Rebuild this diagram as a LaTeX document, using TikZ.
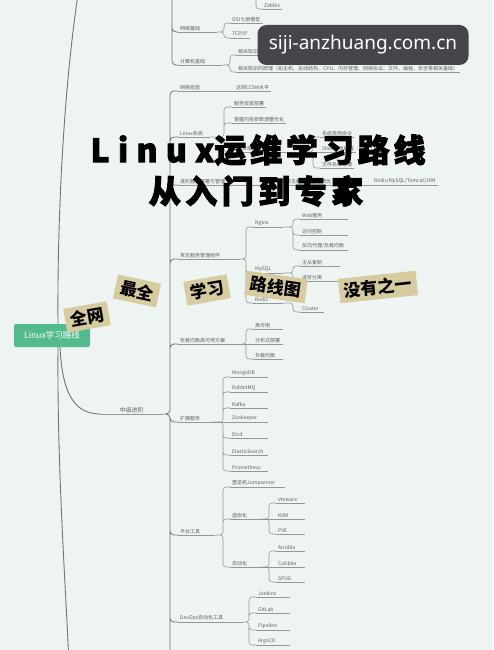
\documentclass[tikz,border=0pt]{standalone}
\usepackage{fontspec}
\newfontfamily\cjk{Noto Sans CJK SC}
\newfontfamily\titlefont{Noto Sans CJK SC}[FakeBold=3]
\newfontfamily\wmfont{Noto Sans}

\definecolor{bg}{RGB}{238,244,242}
\definecolor{linec}{RGB}{150,150,150}
\definecolor{trunkc}{RGB}{115,115,115}
\definecolor{txtc}{RGB}{95,95,95}
\definecolor{rootc}{RGB}{82,186,142}
\definecolor{tagc}{RGB}{214,204,160}
\definecolor{wmc}{RGB}{70,69,76}

\begin{document}
\begin{tikzpicture}[x=1pt,y=-1pt,
  lbl/.style={font=\cjk\fontsize{5}{6}\selectfont, text=txtc, anchor=south west,
    inner xsep=2pt, inner ysep=1.3pt,
    append after command={(\tikzlastnode.south west) edge[ul] (\tikzlastnode.south east)}},
  tw/.style={text width=#1, align=left},
  ul/.style={draw=linec, line width=0.55pt},
  conn/.style={draw=linec, line width=0.55pt, rounded corners=3pt},
  conn2/.style={draw=trunkc, line width=0.8pt, rounded corners=4pt},
  trunk/.style={draw=trunkc, line width=0.9pt},
  br/.style={to path={-| ([xshift=-#1]\tikztotarget.south west) -- (\tikztotarget.south west)}},
  br/.default=7pt,
  rootbox/.style={fill=rootc, text=white, font=\cjk\fontsize{8.5}{10}\selectfont,
    minimum width=76pt, minimum height=23pt, rounded corners=2pt, inner sep=2pt},
  tag/.style={fill=tagc, text=black, font=\cjk\bfseries\fontsize{17}{19}\selectfont,
    inner xsep=5pt, inner ysep=4pt},
  titletxt/.style={font=\titlefont\bfseries\fontsize{32}{34}\selectfont, text=black, inner sep=0pt},
  wm/.style={fill=wmc, rounded corners=9pt, minimum width=211pt, minimum height=40pt,
    text=white, font=\wmfont\fontsize{19}{22}\selectfont}
]
\useasboundingbox (0,0) rectangle (493,650);
\fill[bg] (0,0) rectangle (493,650);
\clip (0,0) rectangle (493,650);

% ---------- root and its trunk lines ----------
\node[rootbox] (root) at (52,335.5) {Linux学习路线};
\coordinate (topEnd) at (82,-30);
\coordinate (botEnd) at (70,690);
\draw[trunk] ([xshift=6pt]root.north) .. controls (57,200) and (66,60) .. (topEnd);
\draw[trunk] ([xshift=6pt]root.south) .. controls (57,480) and (67,600) .. (botEnd);

% ---------- upper branch (parent above the frame) ----------
\coordinate (topP) at (150,-25);
\coordinate (zbP) at (240,-20);
\node[lbl] (zbx) at (262,9) {Zabbix};
\node[lbl, tw=35pt] (netb) at (178,32) {网络基础};
\node[lbl] (osi) at (230,23) {OSI七层模型};
\node[lbl] (tcp) at (230,38) {TCP/IP};
\node[lbl, tw=40pt] (comp) at (178,65) {计算机基础};
\node[lbl] (ka) at (236,55) {相关知识的学习};
\node[lbl] (kb) at (236,72) {相关知识的原理（如主机、总线结构、CPU、内存管理、网络协议、文件、编程、安全等相关基础）};
\draw[conn] (zbP) to[br=6pt] (zbx);
\draw[conn2] (topP) to[br=6pt] (netb) (topP) to[br=6pt] (comp);
\draw[conn] (netb.south east) to[br=6pt] (osi) (netb.south east) to[br=6pt] (tcp);
\draw[conn] (comp.south east) to[br=6pt] (ka) (comp.south east) to[br=6pt] (kb);

% ---------- intermediate branch ----------
\node[lbl, tw=59pt, align=center, font=\cjk\fontsize{6}{7}\selectfont] (mid) at (100,414) {中级进阶};
\draw[trunk] ([xshift=8pt]root.south) .. controls (62,385) and (70,414) .. (mid.south west);
\coordinate (midEnd) at (170,700);

\node[lbl, tw=46pt] (c1) at (178,91) {网络技能};
\node[lbl] (c1a) at (234,91) {达到CCNA水平};
\draw[conn] (c1.south east) -- (c1a.south west);

\node[lbl, tw=28pt] (c2) at (178,137) {Linux系统};
\node[lbl] (c2a) at (232,107) {服务安装部署};
\node[lbl] (c2b) at (232,123) {掌握内核参数调整优化};
\node[lbl, tw=72pt] (c2c) at (232,152) {Linux常用服务管理};
\node[lbl] (c2c1) at (320,137) {系统常用命令};
\node[lbl] (c2c2) at (320,152) {Shell脚本编程};
\node[lbl] (c2c3) at (320,168) {文件系统原理};
\draw[conn] (c2.south east) to[br=8pt] (c2a) (c2.south east) to[br=8pt] (c2b) (c2.south east) to[br=8pt] (c2c);
\draw[conn] (c2c.south east) to[br] (c2c1) (c2c.south east) to[br] (c2c3);
\draw[conn] (c2c.south east) -- (c2c2.south west);

\node[lbl, tw=76pt] (c3) at (178,185) {进阶服务部署与管理};
\node[lbl, tw=98pt] (c3a) at (264,185) {熟练掌握常见服务配置与调优};
\node[lbl] (c3b) at (372,185) {Redis/MySQL/Tomcat/JVM};
\draw[conn] (c3.south east) -- (c3a.south west) (c3a.south east) -- (c3b.south west);

\node[lbl, tw=58pt] (c4) at (178,259) {常见服务管理组件};
\node[lbl, tw=26pt] (ng) at (253,227) {Nginx};
\node[lbl, tw=26pt] (my) at (253,273) {MySQL};
\node[lbl, tw=26pt] (rd) at (253,303) {Redis};
\node[lbl, tw=44pt] (ng1) at (300,219) {Web服务};
\node[lbl, tw=44pt] (ng2) at (300,235) {访问控制};
\node[lbl, tw=44pt] (ng3) at (300,250) {反向代理/负载均衡};
\node[lbl, tw=36pt] (my1) at (300,266) {主从复制};
\node[lbl, tw=36pt] (my2) at (300,281) {读写分离};
\node[lbl, tw=20pt] (rd1) at (300,312) {Cluster};
\draw[conn] (c4.south east) to[br] (ng) (c4.south east) to[br] (my) (c4.south east) to[br] (rd);
\draw[conn] (ng.south east) to[br] (ng1) (ng.south east) to[br] (ng2) (ng.south east) to[br] (ng3);
\draw[conn] (my.south east) to[br] (my1) (my.south east) to[br] (my2);
\draw[conn] (rd.south east) to[br] (rd1);

\node[lbl, tw=59pt] (c5) at (178,344) {负载均衡高可用方案};
\node[lbl, tw=26pt] (c5a) at (253,329) {高可用};
\node[lbl, tw=26pt] (c5b) at (253,344) {分布式部署};
\node[lbl, tw=26pt] (c5c) at (253,359) {负载均衡};
\draw[conn] (c5.south east) to[br] (c5a) (c5.south east) to[br] (c5c);
\draw[conn] (c5.south east) -- (c5b.south west);

\node[lbl, tw=31pt] (c6) at (178,422) {扩展服务};
\node[lbl, tw=34pt] (e1) at (230,377) {MongoDB};
\node[lbl, tw=34pt] (e2) at (230,392) {RabbitMQ};
\node[lbl, tw=34pt] (e3) at (230,408) {Kafka};
\node[lbl, tw=34pt] (e4) at (230,422) {Zookeeper};
\node[lbl, tw=34pt] (e5) at (230,438) {Etcd};
\node[lbl, tw=34pt] (e6) at (230,455) {ElasticSearch};
\node[lbl, tw=34pt] (e7) at (230,471) {Prometheus};
\draw[conn] (c6.south east) to[br] (e1) (c6.south east) to[br] (e2) (c6.south east) to[br] (e3)
  (c6.south east) to[br] (e5) (c6.south east) to[br] (e6) (c6.south east) to[br] (e7);
\draw[conn] (c6.south east) -- (e4.south west);

\node[lbl, tw=33pt] (c7) at (178,535) {平台工具};
\node[lbl, tw=51pt] (p1) at (230,487) {堡垒机Jumpserver};
\node[lbl, tw=27pt] (p2) at (230,519) {虚拟化};
\node[lbl, tw=27pt] (p3) at (230,567) {自动化};
\node[lbl, tw=25pt] (v1) at (276,503) {Vmware};
\node[lbl, tw=25pt] (v2) at (276,519) {KVM};
\node[lbl, tw=25pt] (v3) at (276,534) {PVE};
\node[lbl, tw=25pt] (a1) at (276,551) {Ansible};
\node[lbl, tw=25pt] (a2) at (276,567) {Cobbler};
\node[lbl, tw=25pt] (a3) at (276,582) {SPUG};
\draw[conn] (c7.south east) to[br] (p1) (c7.south east) to[br] (p2) (c7.south east) to[br] (p3);
\draw[conn] (p2.south east) to[br] (v1) (p2.south east) to[br] (v3);
\draw[conn] (p2.south east) -- (v2.south west);
\draw[conn] (p3.south east) to[br] (a1) (p3.south east) to[br] (a3);
\draw[conn] (p3.south east) -- (a2.south west);

\node[lbl, tw=61pt] (c8) at (178,622) {DevOps自动化工具};
\node[lbl, tw=30pt] (d1) at (256,597) {Jenkins};
\node[lbl, tw=30pt] (d2) at (256,613) {GitLab};
\node[lbl, tw=30pt] (d3) at (256,630) {Pipeline};
\node[lbl, tw=30pt] (d4) at (256,645) {ArgoCD};
\draw[conn] (c8.south east) to[br] (d1) (c8.south east) to[br] (d2)
  (c8.south east) to[br] (d3) (c8.south east) to[br] (d4);

% connectors from the intermediate node to its children
\draw[conn2] (mid.south east) to[br=8pt] (c1) (mid.south east) to[br=8pt] (c2)
  (mid.south east) to[br=8pt] (c3) (mid.south east) to[br=8pt] (c4)
  (mid.south east) to[br=8pt] (c5) (mid.south east) to[br=8pt] (c6)
  (mid.south east) to[br=8pt] (c7) (mid.south east) to[br=8pt] (c8)
  (mid.south east) -| (midEnd);

% ---------- headline ----------
\node[titletxt] (title1) at (258,150)
  {\addfontfeature{LetterSpace=26}Linux\addfontfeature{LetterSpace=12}运维学习路线};
\node[titletxt] (title2) at (256,191)
  {\addfontfeature{LetterSpace=14}从入门到专家};

% ---------- stickers ----------
\node[tag, rotate=10] (tQuan) at (87,317) {全网};
\node[tag, rotate=-12] (tZui) at (137,291) {最全};
\node[tag, rotate=10] (tXue) at (207,290) {学习};
\node[tag, rotate=-8] (tLu) at (276,287) {路线图};
\node[tag, rotate=6] (tMei) at (378,287) {没有之一};

% ---------- site badge ----------
\node[wm] (wmark) at (363,45) {siji-anzhuang.com.cn};
\end{tikzpicture}
\end{document}
